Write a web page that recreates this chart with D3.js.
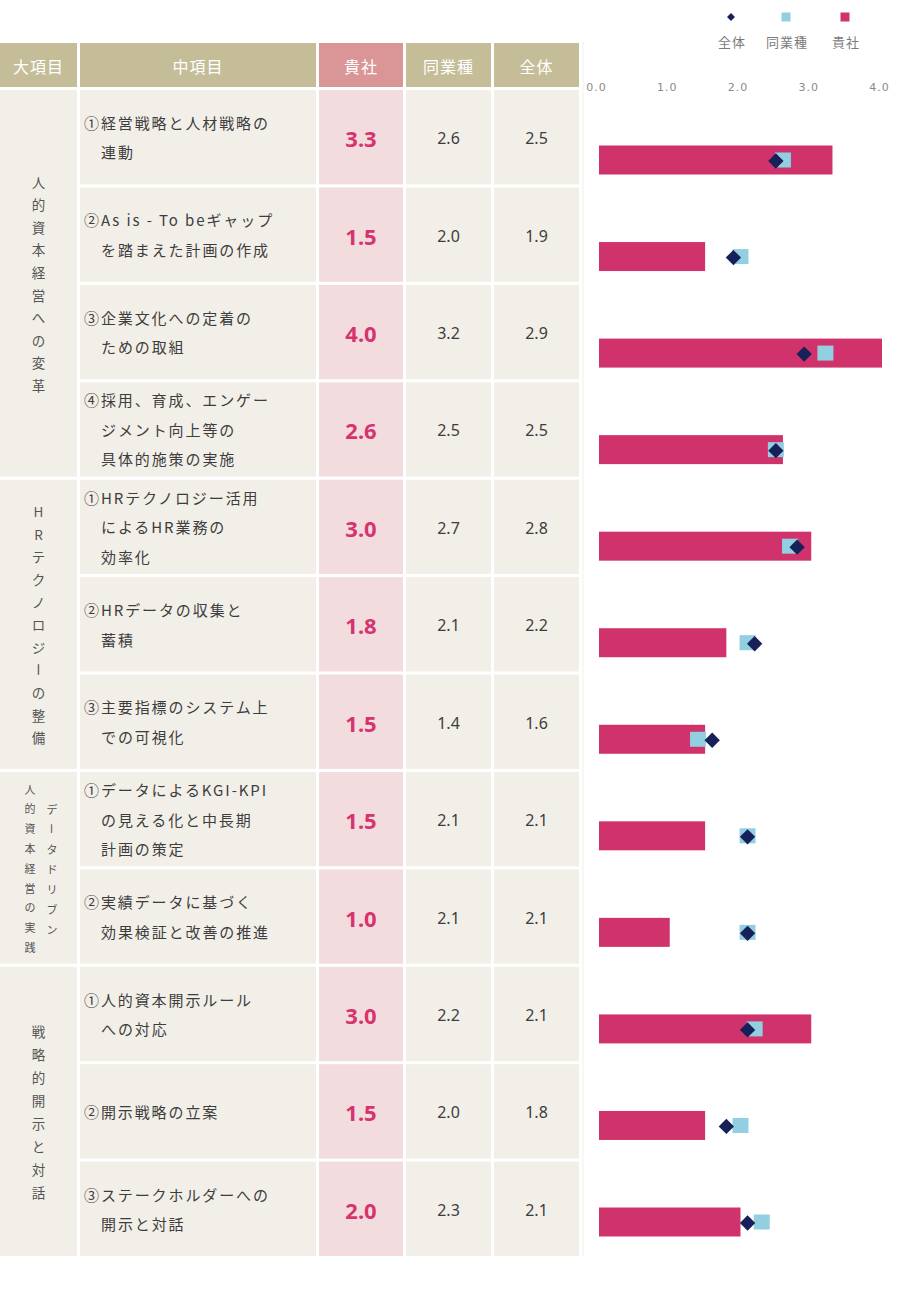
<!DOCTYPE html>
<html><head><meta charset="utf-8">
<script src="https://cdn.jsdelivr.net/npm/d3@7"></script>
<style>
html,body{margin:0;padding:0;background:#fff;}
svg{display:block;font-family:"Noto Sans CJK JP","Noto Sans",sans-serif;}
</style></head>
<body>
<svg id="chart" width="900" height="1290"></svg>
<script>
// ---- data ----
const headers = ["大項目","中項目","貴社","同業種","全体"];
const groups = [
  {label:"人的資本経営への変革", start:0, end:3},
  {label:"HRテクノロジーの整備", start:4, end:6},
  {label:"データドリブン|人的資本経営の実践", start:7, end:8},
  {label:"戦略的開示と対話", start:9, end:11}
];
const items = [
  ["①経営戦略と人材戦略の","連動"],
  ["②As is - To beギャップ","を踏まえた計画の作成"],
  ["③企業文化への定着の","ための取組"],
  ["④採用、育成、エンゲー","ジメント向上等の","具体的施策の実施"],
  ["①HRテクノロジー活用","によるHR業務の","効率化"],
  ["②HRデータの収集と","蓄積"],
  ["③主要指標のシステム上","での可視化"],
  ["①データによるKGI-KPI","の見える化と中長期","計画の策定"],
  ["②実績データに基づく","効果検証と改善の推進"],
  ["①人的資本開示ルール","への対応"],
  ["②開示戦略の立案"],
  ["③ステークホルダーへの","開示と対話"]
];
const kisha   = [3.3,1.5,4.0,2.6,3.0,1.8,1.5,1.5,1.0,3.0,1.5,2.0];
const dogyo   = [2.6,2.0,3.2,2.5,2.7,2.1,1.4,2.1,2.1,2.2,2.0,2.3];
const zentai  = [2.5,1.9,2.9,2.5,2.8,2.2,1.6,2.1,2.1,2.1,1.8,2.1];
const xTicks  = [0,1,2,3,4];
const legendItems = [{key:"全体",shape:"diamond"},{key:"同業種",shape:"square"},{key:"貴社",shape:"bar"}];

// ---- colors ----
const C = {
  head:"#C5BD98", headK:"#DA9597", body:"#F2EFE9", bodyK:"#F3DCDE",
  bar:"#D0336B", sq:"#92CFE0", dia:"#18205A", txt:"#3d3d3d", pinkTxt:"#D6336F"
};

const svg = d3.select("#chart");
const idx = d3.range(items.length);

// table geometry
const colX = [0,80,319,406,494];
const colW = [77,236,84,85,85];
const headTop = 43, headH = 44;
const rowY = d3.scaleBand().domain(idx).range([90,1256]).paddingInner(0.031);

// header
const hg = svg.append("g");
headers.forEach((h,i)=>{
  hg.append("rect").attr("x",colX[i]).attr("y",headTop).attr("width",colW[i]).attr("height",headH)
    .attr("fill", i===2?C.headK:C.head);
  hg.append("text").attr("x",colX[i]+colW[i]/2).attr("y",headTop+headH/2+1)
    .attr("text-anchor","middle").attr("dominant-baseline","central")
    .attr("fill","#fff").attr("font-size",16).attr("letter-spacing",1).text(h);
});

// group column
groups.forEach(g=>{
  const y0 = rowY(g.start), y1 = rowY(g.end)+rowY.bandwidth();
  svg.append("rect").attr("x",colX[0]).attr("y",y0).attr("width",colW[0]).attr("height",y1-y0).attr("fill",C.body);
  const cy = (y0+y1)/2;
  const cols = g.label.split("|");
  const drawCol = (str, x, spacing, fs, cyc) => {
    const chars = Array.from(str);
    chars.forEach((ch,k)=>{
      const y = cyc + (k-(chars.length-1)/2)*spacing;
      const t = svg.append("text").attr("x",x).attr("y",y)
        .attr("text-anchor","middle").attr("dominant-baseline","central")
        .attr("fill","#555").attr("font-size",fs).text(ch);
      if(ch==="ー") t.attr("transform",`rotate(90,${x},${y})`);
    });
  };
  if(cols.length===1){
    drawCol(cols[0], colW[0]/2, (g.label.length>9?22.6:23.1), 13.5, cy);
  } else {
    drawCol(cols[1], 30, 19.8, 11, cy);
    drawCol(cols[0], 52, 20, 11, cy+1);
  }
});

// item rows
idx.forEach(i=>{
  const y = rowY(i), h = rowY.bandwidth(), cy = y+h/2;
  [1,2,3,4].forEach(c=>{
    svg.append("rect").attr("x",colX[c]).attr("y",y).attr("width",colW[c]).attr("height",h)
      .attr("fill", c===2?C.bodyK:C.body);
  });
  const lines = items[i];
  const lh = 29.5;
  lines.forEach((ln,k)=>{
    svg.append("text").attr("x", k===0?84:101).attr("y", cy + (k-(lines.length-1)/2)*lh)
      .attr("dominant-baseline","central").attr("fill",C.txt)
      .attr("font-size",15).attr("letter-spacing",1.9).text(ln);
  });
  svg.append("text").attr("x",colX[2]+colW[2]/2).attr("y",cy+1)
    .attr("text-anchor","middle").attr("dominant-baseline","central")
    .attr("fill",C.pinkTxt).attr("font-size",22).attr("font-weight","bold")
    .attr("font-family","'Noto Sans','Noto Sans CJK JP',sans-serif").text(kisha[i].toFixed(1));
  [[3,dogyo],[4,zentai]].forEach(([c,arr])=>{
    svg.append("text").attr("x",colX[c]+colW[c]/2).attr("y",cy+1)
      .attr("text-anchor","middle").attr("dominant-baseline","central")
      .attr("fill",C.txt).attr("font-size",16)
      .attr("font-family","'Noto Sans','Noto Sans CJK JP',sans-serif").text(arr[i].toFixed(1));
  });
});

// chart
const x = d3.scaleLinear().domain([0,4]).range([599,882]);
const yBar = d3.scalePoint().domain(idx).range([160,1222]);

svg.append("line").attr("x1",583).attr("x2",583).attr("y1",42).attr("y2",1256)
  .attr("stroke","#f0f0f0").attr("stroke-width",1);

const axis = d3.axisTop(x).tickValues(xTicks).tickFormat(d3.format(".1f")).tickSize(0);
const ag = svg.append("g").attr("transform","translate(-3,94)").call(axis);
ag.select(".domain").remove();
ag.selectAll("text").attr("fill","#8a8a8a").attr("font-size",11).attr("letter-spacing",1)
  .attr("font-family","'DejaVu Sans','Noto Sans',sans-serif");

const barH = 29;
svg.append("g").selectAll("rect").data(idx).join("rect")
  .attr("x",x(0)).attr("y",i=>yBar(i)-barH/2)
  .attr("width",i=>x(kisha[i])-x(0)).attr("height",barH).attr("fill",C.bar);

const sq = 16;
svg.append("g").selectAll("rect").data(idx).join("rect")
  .attr("x",i=>x(dogyo[i])-sq/2).attr("y",i=>yBar(i)-sq/2+0.5)
  .attr("width",sq).attr("height",sq-1).attr("fill",C.sq);

const dsym = d3.symbol().type(d3.symbolDiamond2).size(150);
svg.append("g").selectAll("path").data(idx).join("path")
  .attr("transform",i=>`translate(${x(zentai[i])},${yBar(i)+1})`)
  .attr("d",dsym).attr("fill",C.dia);

// legend
const legX = [731,786,845];
const lg = svg.append("g");
legendItems.forEach((l,k)=>{
  const cx = legX[k], cy = 17;
  if(l.shape==="diamond"){
    lg.append("path").attr("transform",`translate(${cx},${cy})`).attr("d",d3.symbol().type(d3.symbolDiamond2).size(40)).attr("fill",C.dia);
  } else {
    lg.append("rect").attr("x",cx-4.5).attr("y",cy-4.5).attr("width",9).attr("height",9)
      .attr("fill", l.shape==="square"?C.sq:C.bar);
  }
  lg.append("text").attr("x",cx+1).attr("y",41).attr("text-anchor","middle").attr("dominant-baseline","central")
    .attr("fill","#7a7a7a").attr("font-size",13).attr("letter-spacing",1).text(l.key);
});
</script>
</body></html>
